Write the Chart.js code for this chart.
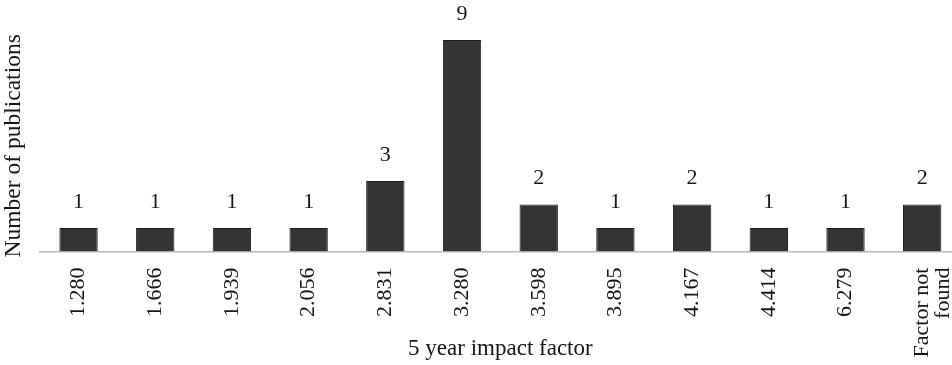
<!DOCTYPE html>
<html>
<head>
<meta charset="utf-8">
<script src="https://cdn.jsdelivr.net/npm/chart.js@4/dist/chart.umd.min.js"></script>
<style>
  html, body { margin: 0; padding: 0; background: #fff; overflow: hidden; }
  #wrap { width: 972px; height: 365px; }
</style>
</head>
<body>
<div id="wrap"><canvas id="c"></canvas></div>
<script>
const categories = ['1.280', '1.666', '1.939', '2.056', '2.831', '3.280', '3.598', '3.895', '4.167', '4.414', '6.279', ['Factor not', 'found']];
const publications = [1, 1, 1, 1, 3, 9, 2, 1, 2, 1, 1, 2];

const serif = '"Liberation Serif", "Times New Roman", serif';
const ink = '#151515';

// numbers above the bars
const barLabels = {
  id: 'barLabels',
  afterDatasetsDraw(chart) {
    const ctx = chart.ctx;
    const meta = chart.getDatasetMeta(0);
    ctx.save();
    ctx.font = '22px ' + serif;
    ctx.fillStyle = ink;
    ctx.textAlign = 'center';
    ctx.textBaseline = 'bottom';
    meta.data.forEach((bar, i) => {
      ctx.fillText(String(publications[i]), bar.x, bar.y - 15);
    });
    ctx.restore();
  }
};

new Chart(document.getElementById('c'), {
  type: 'bar',
  data: {
    labels: categories,
    datasets: [{
      data: publications,
      backgroundColor: '#343434',
      borderColor: '#1c1c1c',
      borderWidth: 1,
      barPercentage: 0.5,
      categoryPercentage: 1
    }]
  },
  options: {
    responsive: true,
    maintainAspectRatio: false,
    animation: false,
    layout: { padding: { top: 40, right: 0, left: 0, bottom: 2 } },
    plugins: { legend: { display: false }, tooltip: { enabled: false } },
    scales: {
      x: {
        grid: { display: false },
        border: { color: '#b8b8b8', width: 1.5 },
        ticks: {
          color: ink,
          font: { family: serif, size: 22, lineHeight: 0.95 },
          minRotation: 90,
          maxRotation: 90,
          padding: 8,
          autoSkip: false
        },
        title: {
          display: true,
          text: '5 year impact factor',
          color: ink,
          font: { family: serif, size: 23 },
          padding: { top: -30, bottom: 0 }
        }
      },
      y: {
        min: 0,
        max: 9,
        grid: { display: false },
        border: { display: false },
        ticks: { display: false },
        title: {
          display: true,
          text: 'Number of publications',
          color: ink,
          font: { family: serif, size: 23.5 },
          padding: { top: 0, bottom: 4 }
        }
      }
    }
  },
  plugins: [barLabels]
});
</script>
</body>
</html>
